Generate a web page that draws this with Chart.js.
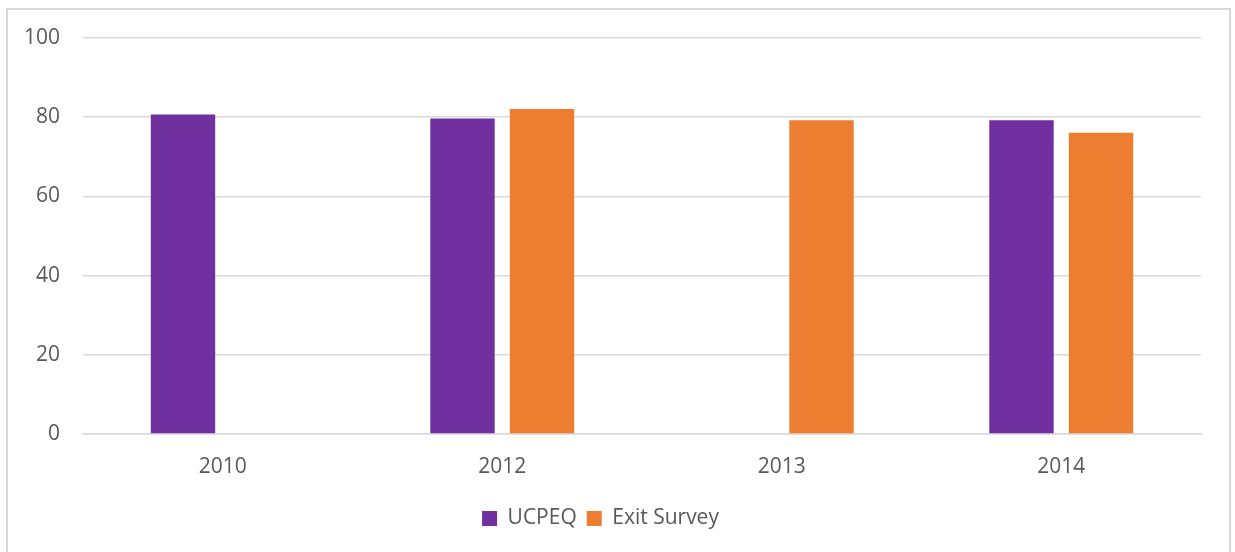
<!DOCTYPE html>
<html>
<head>
<meta charset="utf-8">
<script src="https://cdn.jsdelivr.net/npm/chart.js@4/dist/chart.umd.min.js"></script>
<style>
  html, body { margin: 0; padding: 0; background: #fff; overflow: hidden; }
  #wrap { position: relative; width: 1235px; height: 552px; }
  #frame {
    position: absolute; left: 6px; top: 8px; width: 1225px; height: 600px;
    border: 2px solid #d9d9d9; box-sizing: border-box; pointer-events: none;
  }
</style>
</head>
<body>
<div id="wrap">
  <canvas id="surveyChart" width="1235" height="552"></canvas>
  <div id="frame"></div>
</div>
<script>
// chart values
const years = ['2010', '2012', '2013', '2014'];
const ucpeq = [80.7, 79.7, null, 79.2];
const exitSurvey = [null, 82.1, 79.2, 76.1];
const yTicks = [0, 20, 40, 60, 80, 100];

const textColor = '#595959';
const gridColor = '#d9d9d9';
const font = { family: "'Open Sans', 'Liberation Sans', sans-serif", size: 21 };

const ctx = document.getElementById('surveyChart').getContext('2d');
new Chart(ctx, {
  type: 'bar',
  data: {
    labels: years,
    datasets: [
      {
        label: 'UCPEQ',
        data: ucpeq,
        backgroundColor: '#7030A0',
        borderWidth: 0
      },
      {
        label: 'Exit Survey',
        data: exitSurvey,
        backgroundColor: '#ED7D31',
        borderWidth: 0
      }
    ]
  },
  options: {
    responsive: false,
    animation: false,
    devicePixelRatio: 1,
    categoryPercentage: 0.569,
    barPercentage: 0.81,
    skipNull: false,
    layout: { padding: { left: 0, top: 38, right: 34, bottom: 13 } },
    plugins: {
      tooltip: { enabled: false },
      legend: {
        position: 'bottom',
        labels: {
          color: textColor,
          font: font,
          boxWidth: 15,
          boxHeight: 15,
          padding: 10
        }
      }
    },
    scales: {
      x: {
        grid: { display: false },
        border: { display: true, color: gridColor, width: 1.5 },
        ticks: { color: textColor, font: font, padding: 12 },
        afterFit: (scale) => { scale.height = 64; }
      },
      y: {
        min: 0,
        max: 100,
        afterBuildTicks: (scale) => { scale.ticks = yTicks.map(v => ({ value: v })); },
        grid: { color: gridColor, lineWidth: 1.5, drawTicks: false },
        border: { display: false },
        ticks: { color: textColor, font: font, padding: 23 },
        afterFit: (scale) => { scale.width = 83; }
      }
    }
  }
});
</script>
</body>
</html>
